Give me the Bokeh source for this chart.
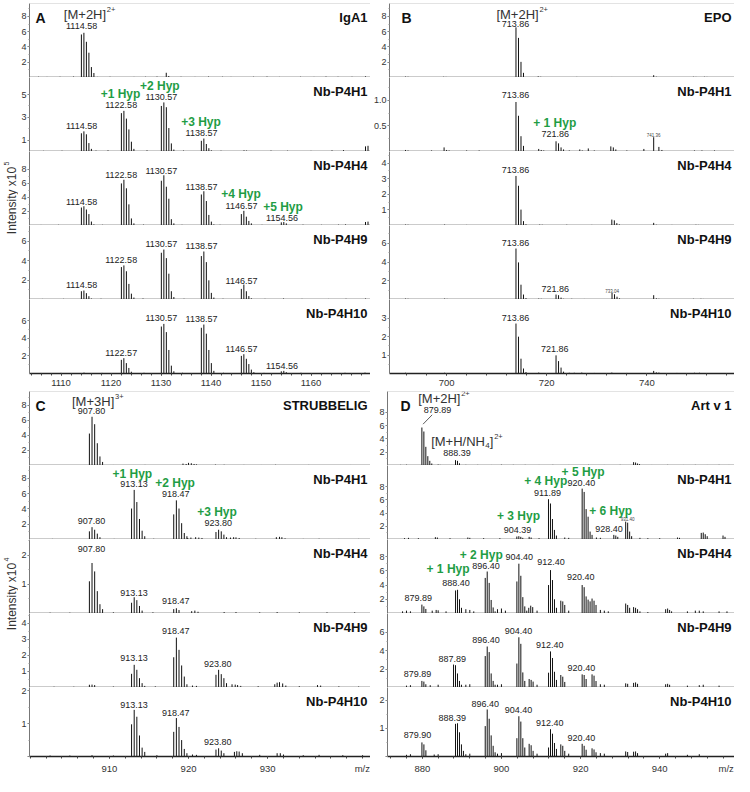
import math
import numpy as np
from bokeh.plotting import figure
from bokeh.models import Range1d, FixedTicker, SingleIntervalTicker, Span, AllLabels
from bokeh.layouts import row, column
from bokeh.embed import file_html
from bokeh.resources import INLINE
from bokeh.core.properties import value

FONT = "Liberation Sans"
GREEN = "#1f9d45"
INK = "#222222"

# ------------------------------------------------------------------ data
# Panel A (IgA1, z = 2)
A_xrange = (1103.7, 1171.9)
A_xticks = [1110, 1120, 1130, 1140, 1150, 1160]
A_titles = ["IgA1", "Nb-P4H1", "Nb-P4H4", "Nb-P4H9", "Nb-P4H10"]
A_yranges = [(0, 9.7), (0, 6.5), (0, 10.5), (0, 7.6), (0, 8.4)]
A_yticks = [[2, 4, 6, 8], [1, 3, 5], [2, 4, 6, 8], [2, 4, 6], [2, 4, 6]]

A1_clusters = [(1114.08, [5.64, 5.86, 4.68, 3.25, 1.37, 0.59])]
A1_noise_mz = [1105.5, 1107.2, 1109.8, 1112.5, 1117.3, 1119.8, 1124.6, 1126.9, 1129.2, 1131.05, 1131.55, 1134.0, 1136.8,
               1139.5, 1142.3, 1144.0, 1148.5, 1151.2, 1153.7, 1157.9, 1160.6, 1163.0, 1165.4, 1168.2, 1170.9]
A1_noise_h = [0.1, 0.08, 0.1, 0.12, 0.08, 0.1, 0.08, 0.1, 0.12, 0.62, 0.2, 0.1, 0.08, 0.12, 0.1, 0.08, 0.1, 0.12, 0.08,
              0.1, 0.08, 0.12, 0.1, 0.1, 0.15]
A2_clusters = [(1114.08, [1.6, 1.77, 1.51, 0.74, 0.23]), (1122.08, [3.37, 3.57, 2.89, 1.94, 0.86, 0.23]),
               (1130.07, [4.0, 4.31, 3.89, 2.06, 0.71, 0.17]), (1138.07, [0.94, 1.14, 0.66, 0.29, 0.1])]
A2_noise_mz = [1106.5, 1110.2, 1117.0, 1119.4, 1127.2, 1134.5, 1142.0, 1146.6, 1147.1, 1152.0, 1155.3, 1160.0, 1164.2,
               1166.5, 1170.9, 1171.4]
A2_noise_h = [0.06, 0.07, 0.08, 0.1, 0.1, 0.08, 0.07, 0.1, 0.08, 0.08, 0.07, 0.06, 0.1, 0.12, 0.45, 0.5]
A3_clusters = [(1114.08, [2.55, 2.73, 2.27, 1.62, 0.56, 0.15]), (1122.08, [5.97, 6.49, 5.28, 3.0, 1.0, 0.3]),
               (1130.07, [6.35, 7.13, 5.5, 3.8, 0.9, 0.3]), (1138.07, [4.4, 4.86, 3.47, 1.5, 0.55, 0.15]),
               (1146.07, [1.62, 2.08, 1.25, 0.65, 0.3]), (1154.06, [0.45, 0.5, 0.3])]
A3_noise_mz = [1106.0, 1109.5, 1118.3, 1126.5, 1134.2, 1141.8, 1150.2, 1158.4, 1162.1, 1165.5, 1166.9, 1170.9, 1171.4]
A3_noise_h = [0.08, 0.1, 0.1, 0.12, 0.1, 0.1, 0.1, 0.12, 0.1, 0.12, 0.15, 0.5, 0.55]
A4_clusters = [(1114.08, [0.85, 0.92, 0.65, 0.34, 0.1]), (1122.08, [3.33, 3.5, 2.9, 1.6, 0.6, 0.2]),
               (1130.07, [4.8, 5.13, 4.25, 2.65, 0.85, 0.25]), (1138.07, [4.46, 4.93, 3.84, 1.97, 0.68, 0.2]),
               (1146.07, [1.09, 1.53, 0.85, 0.35, 0.12])]
A4_noise_mz = [1106.3, 1110.5, 1118.0, 1126.4, 1134.6, 1142.4, 1150.8, 1154.5, 1158.2, 1163.5, 1167.0, 1170.9]
A4_noise_h = [0.06, 0.07, 0.08, 0.1, 0.08, 0.08, 0.07, 0.1, 0.07, 0.06, 0.08, 0.1]
A5_clusters = [(1122.07, [1.55, 1.74, 1.18, 0.63, 0.2]), (1130.07, [5.33, 5.63, 4.7, 2.67, 0.89, 0.25]),
               (1138.07, [5.19, 5.56, 4.52, 2.67, 1.18, 0.3]), (1146.07, [2.0, 2.19, 1.67, 1.07, 0.44, 0.15]),
               (1154.06, [0.25, 0.3, 0.15])]
A5_noise_mz = [1106.0, 1110.0, 1114.6, 1118.2, 1126.6, 1134.3, 1142.5, 1150.6, 1158.0, 1162.6, 1166.8, 1170.8]
A5_noise_h = [0.06, 0.07, 0.1, 0.07, 0.08, 0.08, 0.08, 0.07, 0.08, 0.06, 0.08, 0.1]

A_labels = [
    [("1114.58", 1114.12, 6.73)],
    [("1114.58", 1114.12, 2.2), ("1122.58", 1122.04, 4.07), ("1130.57", 1130.08, 4.78), ("1138.57", 1138.1, 1.64)],
    [("1122.58", 1122.04, 7.1), ("1130.57", 1130.08, 7.8), ("1138.57", 1138.1, 5.5), ("1114.58", 1114.12, 3.4),
     ("1146.57", 1146.1, 2.8), ("1154.56", 1154.2, 1.08)],
    [("1130.57", 1130.08, 5.7), ("1138.57", 1138.1, 5.54), ("1122.58", 1122.04, 4.1), ("1114.58", 1114.12, 1.53),
     ("1146.57", 1146.1, 1.87)],
    [("1130.57", 1130.08, 6.27), ("1138.57", 1138.1, 6.19), ("1146.57", 1146.1, 2.78), ("1122.57", 1122.04, 2.3),
     ("1154.56", 1154.2, 0.82)],
]
A_hyp = [[], [("+1 Hyp", 1121.9, 5.07), ("+2 Hyp", 1129.76, 5.73), ("+3 Hyp", 1138.0, 2.59)],
         [("+4 Hyp", 1146.0, 4.4), ("+5 Hyp", 1154.4, 2.67)], [], []]

# Panel B (EPO, z = 2)
B_xrange = (688.6, 757.5)
B_xticks = [700, 720, 740]
B_titles = ["EPO", "Nb-P4H1", "Nb-P4H4", "Nb-P4H9", "Nb-P4H10"]
B_yranges = [(0, 9.7), (0, 1.45), (0, 4.75), (0, 7.9), (0, 4.0)]
B_yticks = [[2, 4, 6, 8], [0.5, 1.0], [1, 2, 3, 4], [2, 4, 6], [1, 2, 3]]

B1_clusters = [(713.86, [6.58, 5.19, 2.05, 0.61])]
B1_noise_mz = [691.8, 692.3, 699.4, 699.9, 704.5, 709.0, 718.3, 718.8, 722.5, 726.0, 729.5, 733.0, 737.0, 741.36, 741.9,
               746.0, 749.3, 749.8, 751.5, 752.0, 755.0]
B1_noise_h = [0.12, 0.1, 0.1, 0.08, 0.06, 0.06, 0.15, 0.1, 0.06, 0.08, 0.06, 0.07, 0.06, 0.3, 0.1, 0.06, 0.1, 0.08, 0.1,
              0.08, 0.06]
B2_clusters = [(713.86, [0.97, 0.70, 0.30, 0.11]), (721.86, [0.20, 0.16, 0.08, 0.04])]
B2_noise_mz = [691.8, 692.3, 697.0, 699.5, 700.0, 700.5, 704.0, 706.5, 718.4, 718.9, 719.4, 724.5, 726.6, 727.1, 728.3,
               729.5, 732.8, 733.3, 733.8, 736.0, 739.4, 741.36, 742.4, 743.0, 749.5, 751.0, 753.5]
B2_noise_h = [0.03, 0.02, 0.02, 0.08, 0.03, 0.02, 0.02, 0.02, 0.05, 0.03, 0.02, 0.02, 0.04, 0.02, 0.06, 0.02, 0.1, 0.08,
              0.04, 0.02, 0.05, 0.28, 0.09, 0.03, 0.02, 0.02, 0.02]
B3_clusters = [(713.86, [3.18, 2.55, 1.02, 0.28, 0.08])]
B3_noise_mz = [691.8, 692.3, 699.6, 704.0, 718.6, 719.1, 724.0, 729.0, 733.0, 733.5, 734.0, 734.5, 741.36, 741.9, 745.0,
               749.8, 750.3]
B3_noise_h = [0.06, 0.05, 0.06, 0.04, 0.06, 0.05, 0.05, 0.04, 0.38, 0.33, 0.15, 0.07, 0.17, 0.05, 0.04, 0.05, 0.04]
B4_clusters = [(713.86, [5.44, 3.96, 1.58, 0.53, 0.15]), (721.86, [0.53, 0.46, 0.2, 0.08]),
               (733.04, [0.7, 0.56, 0.3, 0.12])]
B4_noise_mz = [691.8, 692.3, 699.6, 700.1, 704.0, 718.4, 718.9, 725.0, 727.5, 729.0, 737.0, 741.36, 741.9, 742.4, 745.0,
               749.3, 750.8, 751.3]
B4_noise_h = [0.1, 0.08, 0.1, 0.07, 0.05, 0.1, 0.08, 0.08, 0.06, 0.05, 0.05, 0.46, 0.12, 0.08, 0.05, 0.08, 0.08, 0.06]
B5_clusters = [(713.86, [2.7, 1.99, 0.8, 0.27, 0.08]), (721.86, [0.98, 0.67, 0.32, 0.1])]
B5_noise_mz = [691.8, 699.6, 704.0, 718.4, 724.5, 725.5, 727.0, 729.5, 733.0, 736.0, 741.36, 741.9, 742.4, 746.0, 749.5,
               750.5]
B5_noise_h = [0.04, 0.04, 0.03, 0.05, 0.04, 0.04, 0.05, 0.03, 0.05, 0.03, 0.14, 0.06, 0.05, 0.03, 0.04, 0.04]

B_labels = [
    [("713.86", 713.75, 7.0)],
    [("713.86", 713.75, 1.1), ("721.86", 721.7, 0.34)],
    [("713.86", 713.75, 3.57)],
    [("713.86", 713.75, 6.0), ("721.86", 721.7, 1.08)],
    [("713.86", 713.75, 3.0), ("721.86", 721.6, 1.3)],
]
B_hyp = [[], [("+ 1 Hyp", 721.6, 0.56)], [], [], []]
B_tiny = [[], [("741.36", 741.36, 0.33)], [], [("733.04", 733.04, 0.87)], []]

# Panel C (STRUBBELIG, z = 3)
C_xrange = (899.9, 943.0)
C_xticks = [910, 920, 930]
C_titles = ["STRUBBELIG", "Nb-P4H1", "Nb-P4H4", "Nb-P4H9", "Nb-P4H10"]
C_yranges = [(0, 9.8), (0, 9.7), (0, 2.55), (0, 4.6), (0, 2.1)]
C_yticks = [[2, 4, 6, 8], [2, 4, 6, 8], [1, 2], [1, 2, 3, 4], [1, 2]]

C1_clusters = [(907.47, [4.23, 6.45, 5.47, 2.95, 1.2, 0.47])]
C1_noise_mz = [902.5, 904.0, 905.6, 910.5, 912.0, 914.5, 916.8, 919.3, 919.7, 920.0, 920.35, 920.7, 921.0, 923.4, 924.5,
               927.0, 929.2, 931.0, 933.5, 935.2, 938.0, 940.5, 942.2]
C1_noise_h = [0.06, 0.05, 0.06, 0.07, 0.05, 0.08, 0.06, 0.25, 0.2, 0.35, 0.3, 0.2, 0.15, 0.12, 0.1, 0.08, 0.07, 0.1,
              0.06, 0.08, 0.06, 0.07, 0.06]
C2_clusters = [(907.47, [1.07, 1.62, 1.28, 0.77, 0.3]), (912.80, [4.06, 6.5, 4.91, 2.69, 1.15, 0.43]),
               (918.13, [3.29, 5.13, 4.06, 2.14, 0.85, 0.43]), (923.47, [0.98, 1.28, 1.07, 0.64, 0.3])]
C2_noise_mz = [902.8, 905.0, 910.6, 915.6, 919.9, 920.3, 920.9, 921.3, 921.7, 925.3, 925.7, 926.0, 926.4, 928.5, 931.1,
               931.5, 931.8, 932.2, 934.5, 936.5, 939.0, 941.5]
C2_noise_h = [0.08, 0.06, 0.08, 0.1, 0.2, 0.25, 0.3, 0.25, 0.2, 0.25, 0.3, 0.28, 0.2, 0.1, 0.3, 0.35, 0.3, 0.15, 0.08,
              0.1, 0.07, 0.08]
C3_clusters = [(907.47, [1.11, 1.74, 1.45, 0.77, 0.32, 0.15]), (912.80, [0.37, 0.56, 0.46, 0.26, 0.1]),
               (918.13, [0.15, 0.18, 0.12])]
C3_noise_mz = [902.5, 905.0, 910.5, 915.5, 920.4, 920.8, 921.2, 924.5, 926.0, 929.0, 931.2, 934.0, 937.5, 941.0]
C3_noise_h = [0.03, 0.03, 0.04, 0.04, 0.08, 0.1, 0.06, 0.05, 0.05, 0.04, 0.05, 0.04, 0.04, 0.04]
C4_clusters = [(907.47, [0.17, 0.18, 0.15]), (912.80, [0.85, 1.41, 1.1, 0.58, 0.27, 0.1]),
               (918.13, [1.88, 3.1, 2.34, 1.37, 0.68, 0.2]), (923.47, [0.79, 1.1, 0.83, 0.58, 0.27])]
C4_noise_mz = [903.0, 905.5, 910.5, 915.8, 920.5, 921.0, 925.5, 925.9, 926.2, 926.6, 928.8, 930.9, 931.2, 931.5, 931.9,
               932.3, 934.0, 936.3, 936.7, 939.0, 941.5]
C4_noise_h = [0.05, 0.05, 0.06, 0.07, 0.12, 0.1, 0.2, 0.18, 0.15, 0.1, 0.08, 0.2, 0.3, 0.33, 0.25, 0.12, 0.08, 0.15,
              0.12, 0.07, 0.06]
C5_clusters = [(912.80, [0.98, 1.42, 1.21, 0.64, 0.27, 0.14]), (918.13, [0.75, 1.17, 0.9, 0.5, 0.23, 0.1]),
               (923.47, [0.21, 0.25, 0.18, 0.1])]
C5_noise_mz = [902.5, 905.0, 907.8, 910.5, 916.0, 920.5, 921.0, 925.8, 926.1, 926.4, 926.8, 929.0, 931.2, 931.6, 932.0,
               934.5, 936.5, 939.5, 942.0]
C5_noise_h = [0.03, 0.03, 0.04, 0.03, 0.04, 0.06, 0.05, 0.14, 0.16, 0.15, 0.1, 0.05, 0.1, 0.1, 0.06, 0.04, 0.05, 0.04,
              0.04]

C_labels = [
    [("907.80", 907.74, 7.18)],
    [("907.80", 907.74, 2.48), ("913.13", 913.1, 7.27), ("918.47", 918.39, 6.0), ("923.80", 923.75, 2.14)],
    [("907.80", 907.74, 2.22), ("913.13", 913.1, 0.70), ("918.47", 918.39, 0.44)],
    [("918.47", 918.39, 3.52), ("913.13", 913.1, 1.83), ("923.80", 923.7, 1.45)],
    [("913.13", 913.1, 1.58), ("918.47", 918.39, 1.32), ("923.80", 923.7, 0.44)],
]
C_hyp = [[], [("+1 Hyp", 912.9, 8.64), ("+2 Hyp", 918.3, 7.44), ("+3 Hyp", 923.6, 3.64)], [], [], []]

# Panel D (Art v 1, z = 2)
D_xrange = (871.2, 958.9)
D_xticks = [880, 900, 920, 940]
D_titles = ["Art v 1", "Nb-P4H1", "Nb-P4H4", "Nb-P4H9", "Nb-P4H10"]
D_yranges = [(0, 11.1), (0, 11.2), (0, 10.4), (0, 8.0), (0, 2.45)]
D_yticks = [[2, 4, 6, 8], [2, 4, 6, 8], [2, 4, 6, 8], [2, 4, 6], [1, 2]]

D1_clusters = [(879.89, [5.7, 5.1, 2.8, 1.4, 0.7, 0.3]), (888.39, [0.8, 0.7, 0.33])]
D1_noise_mz = [874.5, 876.0, 884.0, 884.5, 891.0, 894.0, 897.5, 900.0, 903.0, 906.0, 909.5, 913.0, 917.0, 922.0, 926.0,
               930.0, 933.4, 933.9, 934.4, 934.9, 938.0, 942.0, 946.0, 949.0, 952.0, 955.0, 957.5]
D1_noise_h = [0.1, 0.12, 0.15, 0.1, 0.1, 0.1, 0.08, 0.12, 0.1, 0.1, 0.08, 0.1, 0.08, 0.1, 0.08, 0.1, 0.5, 0.45, 0.3,
              0.2, 0.08, 0.1, 0.08, 0.1, 0.08, 0.1, 0.08]
D2_clusters = [(903.89, [0.45, 0.5, 0.4, 0.25]), (911.89, [6.1, 5.45, 3.1, 1.45, 0.6]),
               (920.40, [7.7, 7.2, 4.6, 3.45, 1.2, 0.7]), (928.40, [0.7, 0.6, 0.4]), (931.40, [2.7, 2.55, 1.2, 0.5])]
D2_noise_mz = [875.5, 876.5, 879.0, 883.3, 883.8, 887.0, 891.5, 892.0, 895.5, 899.6, 907.0, 907.5, 909.5, 916.0, 917.0,
               924.0, 925.0, 935.0, 937.0, 940.0, 944.5, 945.0, 950.5, 951.0, 951.5, 952.0, 956.0, 956.5]
D2_noise_h = [0.2, 0.25, 0.2, 0.35, 0.3, 0.2, 0.3, 0.25, 0.2, 0.2, 0.4, 0.3, 0.2, 0.3, 0.25, 0.3, 0.25, 0.25, 0.2, 0.2,
              0.3, 0.25, 1.0, 1.05, 0.8, 0.5, 0.6, 0.4]
D3_clusters = [(879.89, [1.25, 1.0, 0.64]), (888.40, [3.24, 3.33, 2.0, 0.8]), (895.90, [5.0, 5.9, 4.3, 1.9, 0.85, 0.3]),
               (903.90, [4.5, 7.0, 5.3, 2.3, 1.0, 0.4]), (911.90, [4.0, 6.1, 4.7, 2.0, 0.8]),
               (920.40, [4.0, 3.7, 2.4, 1.95, 1.7])]
D3_noise_mz = [875.0, 876.0, 877.0, 882.5, 883.5, 884.0, 886.0, 891.0, 892.0, 893.0, 899.0, 900.0, 901.0, 906.9, 907.4,
               907.9, 909.0, 915.0, 915.5, 916.0, 917.0, 922.9, 923.4, 923.9, 925.0, 926.0, 927.0, 931.4, 931.9, 932.4,
               933.4, 933.9, 934.4, 935.0, 937.0, 941.5, 942.0, 942.5, 943.0, 947.0, 949.0, 950.0, 951.0, 955.0, 957.0]
D3_noise_h = [0.3, 0.4, 0.3, 0.4, 0.5, 0.45, 0.3, 0.6, 0.5, 0.3, 0.6, 0.7, 0.4, 0.8, 1.1, 0.9, 0.4, 1.8, 1.7, 1.2, 0.4,
              2.1, 1.8, 1.2, 0.5, 0.4, 0.3, 1.4, 1.2, 0.8, 0.9, 0.8, 0.6, 0.3, 0.2, 0.6, 0.7, 0.5, 0.3, 0.3, 0.4, 0.4,
              0.3, 0.3, 0.3]
D4_clusters = [(879.89, [0.71, 0.64, 0.35]), (887.89, [2.48, 2.41, 1.52, 0.71, 0.3]),
               (895.90, [3.4, 4.43, 3.83, 1.52, 0.71, 0.3]), (903.90, [2.59, 5.43, 4.72, 1.63, 0.71]),
               (911.90, [1.6, 3.9, 3.19, 1.7, 0.82]), (920.40, [1.42, 1.35, 0.92])]
D4_noise_mz = [876.0, 877.0, 882.0, 884.0, 891.0, 892.0, 899.0, 900.0, 907.0, 907.5, 908.0, 909.0, 915.0, 915.5, 916.0,
               922.9, 923.4, 923.9, 925.0, 926.0, 931.4, 931.9, 933.4, 933.9, 934.4, 941.5, 942.0, 942.5, 947.0, 950.0,
               951.0, 955.0]
D4_noise_h = [0.2, 0.25, 0.25, 0.3, 0.3, 0.35, 0.3, 0.35, 0.92, 0.82, 0.64, 0.3, 1.35, 1.17, 0.6, 1.42, 1.28, 0.7, 0.35,
              0.3, 0.45, 0.4, 0.5, 0.55, 0.4, 0.35, 0.4, 0.3, 0.2, 0.25, 0.3, 0.2]
D5_clusters = [(879.90, [0.5, 0.43, 0.22]), (888.39, [1.16, 1.18, 0.86, 0.43, 0.2]),
               (895.90, [1.08, 1.67, 1.34, 0.75, 0.38, 0.15]), (903.90, [0.65, 1.43, 1.24, 0.65, 0.32]),
               (911.90, [0.32, 0.97, 0.81, 0.48, 0.27]), (920.40, [0.45, 0.38, 0.24])]
D5_noise_mz = [876.0, 877.0, 883.0, 884.0, 891.0, 892.0, 899.0, 900.0, 907.0, 907.5, 908.0, 909.0, 915.0, 915.5, 916.0,
               917.0, 922.9, 923.4, 923.9, 925.0, 926.0, 931.4, 931.9, 933.4, 933.9, 934.4, 941.5, 942.0, 947.0, 950.0]
D5_noise_h = [0.06, 0.08, 0.07, 0.08, 0.08, 0.1, 0.1, 0.12, 0.45, 0.4, 0.2, 0.1, 0.43, 0.38, 0.2, 0.1, 0.29, 0.25, 0.15,
              0.12, 0.1, 0.18, 0.16, 0.17, 0.18, 0.12, 0.1, 0.12, 0.06, 0.08]

D_labels = [
    [("879.89", 883.85, 8.3), ("888.39", 888.77, 1.95)],
    [("904.39", 904.04, 1.4), ("911.89", 911.64, 7.0), ("920.40", 920.2, 8.5), ("928.40", 927.2, 1.65)],
    [("904.40", 904.5, 8.0), ("896.40", 896.1, 6.72), ("912.40", 912.5, 7.18), ("920.40", 920.06, 5.1),
     ("888.40", 888.52, 4.3), ("879.89", 878.96, 2.22)],
    [("904.40", 904.3, 6.14), ("896.40", 896.1, 5.15), ("912.40", 912.2, 4.62), ("887.89", 887.54, 3.13),
     ("920.40", 920.2, 2.06), ("879.89", 878.8, 1.46)],
    [("896.40", 895.9, 1.86), ("888.39", 887.54, 1.35), ("904.40", 904.3, 1.65), ("912.40", 912.2, 1.18),
     ("920.40", 920.2, 0.67), ("879.90", 878.8, 0.75)],
]
D_hyp = [[], [("+ 3 Hyp", 904.3, 3.55), ("+ 4 Hyp", 911.2, 8.9), ("+ 5 Hyp", 920.63, 10.24), ("+ 6 Hyp", 927.6, 4.3)],
         [("+ 2 Hyp", 894.9, 8.25), ("+ 1 Hyp", 886.5, 6.3)], [], []]
D_tiny = [[], [("931.40", 931.9, 3.05)], [], [], []]

AXIS_TITLE = "m/z"

# ------------------------------------------------------------------ layout constants
FRAME_H = 74
TOP_B = 3
BOT_B = 15
LAB_W = 18
LEFT_W, LEFT_BORDER = 352, 8
RIGHT_W, RIGHT_BORDER = 364, 17


def expand(clusters, charge, noise_mz, noise_h):
    mz, h = [], []
    for start, heights in clusters:
        for i, v in enumerate(heights):
            mz.append(start + i / charge)
            h.append(v)
    return mz + list(noise_mz), h + list(noise_h)


def txt(p, xs, ys, texts, size, color=INK, bold=False, align="center", baseline="middle", xo=0, yo=0, angle=0.0):
    p.text(x=xs, y=ys, text=texts, text_font=value(FONT), text_font_size=value(size), text_color=color,
           text_font_style="bold" if bold else "normal", text_align=align, text_baseline=baseline,
           x_offset=xo, y_offset=yo, angle=angle)


def make_sub(xr, yr, ticks, width, left, pos, xticks, xminor_step, title, letter=None, letter_dx=6, mz_title=False):
    top = TOP_B if pos == 0 else 0
    bottom = BOT_B if pos == 4 else 0
    p = figure(width=width, height=FRAME_H + top + bottom,
               x_range=Range1d(*xr), y_range=Range1d(*yr),
               output_backend="svg", toolbar_location=None,
               x_axis_location="below" if pos == 4 else None,
               min_border_left=left, min_border_right=0, min_border_top=top, min_border_bottom=bottom)
    p.outline_line_color = None
    p.grid.visible = False
    p.background_fill_color = "white"
    p.border_fill_color = "white"
    step = ticks[1] - ticks[0]
    fractional = any(abs(t - round(t)) > 1e-9 for t in ticks)
    names = {float(t): ("%.1f" % t if fractional else str(int(t))) for t in ticks}
    ya = p.yaxis[0]
    regular = abs(ticks[0] - step) < 1e-9 and (ticks[-1] + step) > yr[1]
    if regular:
        # evenly spaced ticks starting one step above zero: interval ticker, zero label hidden
        ya.ticker = SingleIntervalTicker(interval=step, num_minor_ticks=2)
        names[0.0] = ""
    else:
        minors = [round(float(v), 4) for v in np.arange(step / 2, ticks[-1] + 1e-6, step / 2)]
        ya.ticker = FixedTicker(ticks=[float(t) for t in ticks], minor_ticks=minors)
    ya.major_label_overrides = names
    ya.major_label_policy = AllLabels()
    ya.major_label_text_font_size = "9px"
    ya.major_label_text_font = FONT
    ya.major_label_text_color = "#333333"
    ya.major_label_standoff = 1
    ya.major_tick_out = 2
    ya.major_tick_in = 0
    ya.minor_tick_out = 1
    ya.minor_tick_in = 0
    ya.axis_line_color = "#777777"
    ya.major_tick_line_color = "#777777"
    ya.minor_tick_line_color = "#999999"
    if pos == 4:
        xa = p.xaxis[0]
        minor_x = [float(v) for v in np.arange(xr[0] - xr[0] % xminor_step + xminor_step, xr[1], xminor_step)]
        majors = [float(t) for t in xticks]
        overrides = {}
        if mz_title:
            # the axis title sits at the right end of the tick-label row
            mz_pos = round(xr[1] - (xr[1] - xr[0]) * 0.024, 3)
            majors.append(mz_pos)
            overrides[mz_pos] = AXIS_TITLE
        xa.ticker = FixedTicker(ticks=majors, minor_ticks=minor_x + [float(t) for t in xticks])
        if overrides:
            xa.major_label_overrides = overrides
        xa.major_label_policy = AllLabels()
        xa.major_label_text_font_size = "9.5px"
        xa.major_label_text_font = FONT
        xa.major_label_text_color = "#333333"
        xa.major_label_standoff = 4
        xa.major_tick_out = 0
        xa.major_tick_in = 0
        xa.minor_tick_out = 2
        xa.minor_tick_in = 0
        xa.axis_line_width = 1.5
        xa.axis_line_color = INK
        xa.minor_tick_line_color = "#444444"
    else:
        p.add_layout(Span(location=yr[0], dimension="width", line_color="#333333", line_width=1.6))
    if pos == 0:
        p.add_layout(Span(location=yr[1], dimension="width", line_color="#c8c8c8", line_width=1))
    txt(p, [xr[1]], [yr[1]], [title], "13px", color="#111111", bold=True, align="right", baseline="top", xo=-3, yo=6)
    if letter:
        txt(p, [xr[0]], [yr[1]], [letter], "14px", color="#111111", bold=True, align="left",
            baseline="top", xo=letter_dx, yo=6)
    return p


def add_peaks(p, clusters, charge, nmz, nh):
    mz, h = expand(clusters, charge, nmz, nh)
    p.segment(x0=mz, y0=[0] * len(mz), x1=mz, y1=h, line_color="#111111", line_width=1.0)


def add_labels(p, labels, hyp, tiny=()):
    if labels:
        txt(p, [l[1] for l in labels], [l[2] for l in labels], [l[0] for l in labels], "9px", color="#222222")
    if hyp:
        txt(p, [l[1] for l in hyp], [l[2] for l in hyp], [l[0] for l in hyp], "12px", color=GREEN, bold=True)
    if tiny:
        txt(p, [l[1] for l in tiny], [l[2] for l in tiny], [l[0] for l in tiny], "4.5px", color="#444444")


def add_ion(p, x, y, main, sup):
    txt(p, [x], [y], [main], "13px", color="#333333", align="left")
    txt(p, [x], [y], [sup], "7.5px", color="#333333", align="left", xo=43, yo=-5)


def build_panel(xr, xticks, xminor, titles, yranges, yticks, clusters, noise, labels, hyp, tiny, charge,
                width, left, letter, letter_dx, mz_title):
    figs = []
    for i in range(5):
        p = make_sub(xr, yranges[i], yticks[i], width, left, i, xticks, xminor, titles[i],
                     letter if i == 0 else None, letter_dx, mz_title)
        add_peaks(p, clusters[i], charge, noise[i][0], noise[i][1])
        add_labels(p, labels[i], hyp[i], tiny[i])
        figs.append(p)
    return figs


no_tiny = [[], [], [], [], []]
A_figs = build_panel(A_xrange, A_xticks, 2, A_titles, A_yranges, A_yticks,
                     [A1_clusters, A2_clusters, A3_clusters, A4_clusters, A5_clusters],
                     [(A1_noise_mz, A1_noise_h), (A2_noise_mz, A2_noise_h), (A3_noise_mz, A3_noise_h),
                      (A4_noise_mz, A4_noise_h), (A5_noise_mz, A5_noise_h)],
                     A_labels, A_hyp, no_tiny, 2, LEFT_W, LEFT_BORDER, "A", 6, False)
B_figs = build_panel(B_xrange, B_xticks, 4, B_titles, B_yranges, B_yticks,
                     [B1_clusters, B2_clusters, B3_clusters, B4_clusters, B5_clusters],
                     [(B1_noise_mz, B1_noise_h), (B2_noise_mz, B2_noise_h), (B3_noise_mz, B3_noise_h),
                      (B4_noise_mz, B4_noise_h), (B5_noise_mz, B5_noise_h)],
                     B_labels, B_hyp, B_tiny, 2, RIGHT_W, RIGHT_BORDER, "B", 12, False)
C_figs = build_panel(C_xrange, C_xticks, 2, C_titles, C_yranges, C_yticks,
                     [C1_clusters, C2_clusters, C3_clusters, C4_clusters, C5_clusters],
                     [(C1_noise_mz, C1_noise_h), (C2_noise_mz, C2_noise_h), (C3_noise_mz, C3_noise_h),
                      (C4_noise_mz, C4_noise_h), (C5_noise_mz, C5_noise_h)],
                     C_labels, C_hyp, no_tiny, 3, LEFT_W, LEFT_BORDER, "C", 6, True)
D_figs = build_panel(D_xrange, D_xticks, 4, D_titles, D_yranges, D_yticks,
                     [D1_clusters, D2_clusters, D3_clusters, D4_clusters, D5_clusters],
                     [(D1_noise_mz, D1_noise_h), (D2_noise_mz, D2_noise_h), (D3_noise_mz, D3_noise_h),
                      (D4_noise_mz, D4_noise_h), (D5_noise_mz, D5_noise_h)],
                     D_labels, D_hyp, D_tiny, 2, RIGHT_W, RIGHT_BORDER, "D", 13, True)

# ion annotations
add_ion(A_figs[0], 1110.57, 8.2, "[M+2H]", "2+")
add_ion(B_figs[0], 709.95, 8.2, "[M+2H]", "2+")
add_ion(C_figs[0], 905.27, 8.46, "[M+3H]", "3+")
add_ion(D_figs[0], 878.96, 10.0, "[M+2H]", "2+")
d1 = D_figs[0]
txt(d1, [882.23], [3.6], ["[M+H/NH"], "13px", color="#333333", align="left")
txt(d1, [882.23], [3.6], ["4"], "8px", color="#333333", align="left", xo=54, yo=4)
txt(d1, [882.23], [3.6], ["]"], "13px", color="#333333", align="left", xo=58.5)
txt(d1, [882.23], [3.6], ["2+"], "7.5px", color="#333333", align="left", xo=63, yo=-5)
peak0 = D1_clusters[0]
d1.segment(x0=[peak0[0] + 0.3], y0=[peak0[1][0] + 0.5], x1=[peak0[0] + 2.6], y1=[peak0[1][0] + 1.9],
           line_color="#333333", line_width=0.8)


def label_fig(center, exp):
    h = TOP_B + FRAME_H * 5 + BOT_B
    p = figure(width=LAB_W, height=h, x_range=Range1d(0, LAB_W), y_range=Range1d(0, h),
               output_backend="svg", toolbar_location=None, x_axis_location=None, y_axis_location=None,
               min_border=0)
    p.outline_line_color = None
    p.grid.visible = False
    txt(p, [11], [center], ["Intensity x10"], "12px", color="#333333", angle=math.pi / 2)
    txt(p, [5.8], [center + 35], [exp], "7px", color="#333333", align="left", angle=math.pi / 2)
    return p


top_row = row(label_fig(188, "5"), column(*A_figs), column(*B_figs))
bot_row = row(label_fig(180, "4"), column(*C_figs), column(*D_figs))
layout = column(top_row, bot_row)

open("out.html", "w").write(file_html(layout, INLINE))
